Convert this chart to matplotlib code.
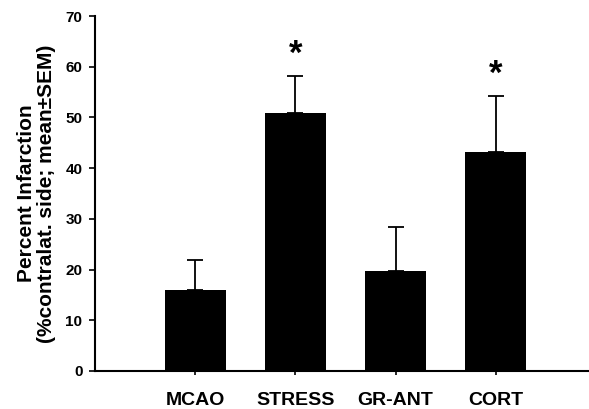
import numpy as np
import matplotlib.pyplot as plt

groups = ['MCAO', 'STRESS', 'GR-ANT', 'CORT']
means = [15.9, 50.8, 19.8, 43.1]
sem = [5.9, 7.4, 8.6, 11.2]
signif = [False, True, False, True]

plt.rcParams['font.family'] = ['Liberation Sans', 'DejaVu Sans']
plt.rcParams['font.weight'] = 'bold'

fig = plt.figure(figsize=(5.89, 4.09), dpi=100)
ax = fig.add_axes([95/589, 1 - 371/409, 1 - 95/589, 355/409])

x = np.arange(len(groups))
ax.bar(x, means, width=0.61, color='black', zorder=2)
ax.errorbar(x, means, yerr=[np.zeros(len(sem)), sem], fmt='none',
            ecolor='black', elinewidth=1.3, capsize=5.5, capthick=1.3, zorder=1)

# significance stars
for i in range(len(groups)):
    if signif[i]:
        ax.text(x[i], means[i] + sem[i] + 1.0, '*', ha='center', va='bottom',
                fontsize=25, fontweight='bold')

ax.set_ylim(0, 70)
ax.set_xlim(-1.0, 3.93)
ax.set_yticks(np.arange(0, 71, 10))
ax.set_xticks(x)
ax.set_xticklabels(groups, fontsize=14, fontweight='bold')
ax.tick_params(axis='y', direction='out', length=4, width=1.2, pad=5, labelsize=11)
ax.tick_params(axis='x', direction='out', length=3, width=1.2, pad=12)
for t in ax.get_yticklabels():
    t.set_fontweight('bold')

ax.spines['top'].set_visible(False)
ax.spines['right'].set_visible(False)
ax.spines['left'].set_linewidth(1.5)
ax.spines['bottom'].set_linewidth(1.5)

ax.set_ylabel('Percent Infarction\n(%contralat. side; mean±SEM)',
              fontsize=15, fontweight='bold', linespacing=1.05, labelpad=7)

fig.savefig('out.png', dpi=100)
